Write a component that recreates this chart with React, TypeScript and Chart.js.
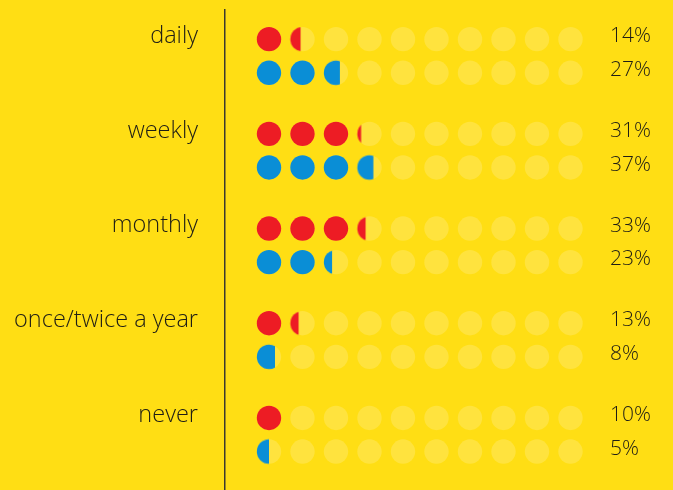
import React, { useEffect, useRef } from "react";
import { Chart, registerables } from "chart.js";

Chart.register(...registerables);

// ---- data ----
const categories: string[] = ["daily", "weekly", "monthly", "once/twice a year", "never"];
const redSeries: number[] = [14, 31, 33, 13, 10];
const blueSeries: number[] = [27, 37, 23, 8, 5];
const dotCount = 10; // dots per row
const percentPerDot = 10; // each dot = 10%

// ---- styles ----
const BG = "#FFDE14";
const DOT_BG = "#FFE33E";
const RED = "#ED1C24";
const BLUE = "#0A8ED6";
const TEXT = "#1E1D16";
const FONT = "'Open Sans', Lato, sans-serif";
const R = 12.2;
const ROW_OFFSET = 0.355; // second row offset in group units
const LABEL_SHIFT = 0.03;

// width fraction of a circle whose left segment covers the given area fraction
function widthForArea(a: number): number {
  if (a <= 0) return 0;
  if (a >= 1) return 1;
  let lo = 0, hi = 2;
  for (let k = 0; k < 60; k++) {
    const h = (lo + hi) / 2; // in radius units, 0..2
    const d = 1 - h;
    const area = Math.acos(d) - d * Math.sqrt(Math.max(0, 1 - d * d));
    if (area / Math.PI < a) lo = h;
    else hi = h;
  }
  return (lo + hi) / 4;
}

function partialDot(color: string, frac: number): HTMLCanvasElement {
  const size = Math.ceil(R) * 2 + 2;
  const c = document.createElement("canvas");
  c.width = size;
  c.height = size;
  const ctx = c.getContext("2d")!;
  const cx = size / 2;
  const w = widthForArea(frac) * 2 * R;
  ctx.save();
  ctx.beginPath();
  ctx.rect(cx - R - 1, 0, w + 1, size);
  ctx.clip();
  ctx.beginPath();
  ctx.arc(cx, cx, R, 0, Math.PI * 2);
  ctx.fillStyle = color;
  ctx.fill();
  ctx.restore();
  return c;
}

function buildSeries(values: number[], offset: number, color: string) {
  const pts: { x: number; y: number }[] = [];
  const styles: any[] = [];
  values.forEach((v, g) => {
    const full = Math.floor(v / percentPerDot);
    const rem = (v - full * percentPerDot) / percentPerDot;
    for (let i = 0; i < full; i++) {
      pts.push({ x: i, y: g + offset });
      styles.push("circle");
    }
    if (rem > 0) {
      pts.push({ x: full, y: g + offset });
      styles.push(partialDot(color, rem));
    }
  });
  return { pts, styles };
}

export default function App() {
  const ref = useRef<HTMLCanvasElement>(null);

  useEffect(() => {
    document.body.style.margin = "0";
    document.body.style.background = BG;
    const red = buildSeries(redSeries, 0, RED);
    const blue = buildSeries(blueSeries, ROW_OFFSET, BLUE);
    const bgPts: { x: number; y: number }[] = [];
    categories.forEach((_, g) => {
      for (let i = 0; i < dotCount; i++) {
        bgPts.push({ x: i, y: g });
        bgPts.push({ x: i, y: g + ROW_OFFSET });
      }
    });
    const rowValues: number[] = [];
    const pctLabels: string[] = [];
    categories.forEach((_, g) => {
      rowValues.push(g, g + ROW_OFFSET);
      pctLabels.push(redSeries[g] + "%", blueSeries[g] + "%");
    });

    const yMin = -0.308;
    const yMax = 4.761;

    const fixFit = (w: number) => (scale: any) => {
      scale.width = w;
      scale.paddingTop = 0;
      scale.paddingBottom = 0;
      scale.paddingLeft = 0;
      scale.paddingRight = 0;
    };

    const chart = new Chart(ref.current!, {
      type: "scatter",
      data: {
        datasets: [
          {
            label: "red",
            data: red.pts,
            pointStyle: red.styles,
            pointRadius: R,
            pointBackgroundColor: RED,
            pointBorderWidth: 0,
            order: 1,
          },
          {
            label: "blue",
            data: blue.pts,
            pointStyle: blue.styles,
            pointRadius: R,
            pointBackgroundColor: BLUE,
            pointBorderWidth: 0,
            order: 1,
          },
          {
            label: "empty",
            data: bgPts,
            pointStyle: "circle",
            pointRadius: R,
            pointBackgroundColor: DOT_BG,
            pointBorderWidth: 0,
            order: 2,
          },
        ],
      },
      options: {
        responsive: false,
        animation: false,
        devicePixelRatio: 1,
        events: [],
        layout: { autoPadding: false, padding: { top: 10, left: 0, right: 0, bottom: 0 } },
        plugins: { legend: { display: false }, tooltip: { enabled: false } },
        scales: {
          x: {
            type: "linear",
            display: false,
            min: -1.313,
            max: 9.881,
          },
          y: {
            type: "linear",
            position: "left",
            reverse: true,
            min: yMin,
            max: yMax,
            grid: { display: false, drawTicks: false },
            border: { display: true, color: "#3A3930", width: 1.5 },
            afterBuildTicks: (scale: any) => {
              scale.ticks = categories.map((_, g) => ({ value: g - LABEL_SHIFT }));
            },
            afterFit: fixFit(225),
            ticks: {
              autoSkip: false,
              padding: 27,
              color: TEXT,
              font: { family: FONT, size: 23.5, weight: "300" as any },
              callback: (_v: any, i: number) => categories[i],
            },
          },
          y2: {
            type: "linear",
            position: "right",
            reverse: true,
            min: yMin,
            max: yMax,
            grid: { display: false, drawTicks: false },
            border: { display: false },
            afterBuildTicks: (scale: any) => {
              scale.ticks = rowValues.map((v) => ({ value: v - LABEL_SHIFT }));
            },
            afterFit: fixFit(73),
            ticks: {
              autoSkip: false,
              padding: 10,
              color: TEXT,
              font: { family: FONT, size: 21, weight: "300" as any },
              callback: (_v: any, i: number) => pctLabels[i],
            },
          },
        },
      },
    });
    return () => chart.destroy();
  }, []);

  return (
    <div style={{ width: 673, height: 490, background: BG }}>
      <canvas ref={ref} width={673} height={490} style={{ display: "block" }} />
    </div>
  );
}
